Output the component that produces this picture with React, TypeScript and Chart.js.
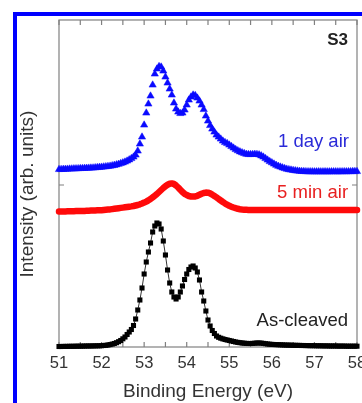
import React, { useEffect, useRef } from 'react';
import { Chart, registerables } from 'chart.js';

Chart.register(...registerables);

// Binding energy grid (eV)
const energies = [
  51.0, 51.05, 51.1, 51.15, 51.2, 51.25, 51.3, 51.35, 51.4, 51.45,
  51.5, 51.55, 51.6, 51.65, 51.7, 51.75, 51.8, 51.85, 51.9, 51.95,
  52.0, 52.05, 52.1, 52.15, 52.2, 52.25, 52.3, 52.35, 52.4, 52.45,
  52.5, 52.55, 52.6, 52.65, 52.7, 52.75, 52.8, 52.85, 52.9, 52.95,
  53.0, 53.05, 53.1, 53.15, 53.2, 53.25, 53.3, 53.35, 53.4, 53.45,
  53.5, 53.55, 53.6, 53.65, 53.7, 53.75, 53.8, 53.85, 53.9, 53.95,
  54.0, 54.05, 54.1, 54.15, 54.2, 54.25, 54.3, 54.35, 54.4, 54.45,
  54.5, 54.55, 54.6, 54.65, 54.7, 54.75, 54.8, 54.85, 54.9, 54.95,
  55.0, 55.05, 55.1, 55.15, 55.2, 55.25, 55.3, 55.35, 55.4, 55.45,
  55.5, 55.55, 55.6, 55.65, 55.7, 55.75, 55.8, 55.85, 55.9, 55.95,
  56.0, 56.05, 56.1, 56.15, 56.2, 56.25, 56.3, 56.35, 56.4, 56.45,
  56.5, 56.55, 56.6, 56.65, 56.7, 56.75, 56.8, 56.85, 56.9, 56.95,
  57.0, 57.05, 57.1, 57.15, 57.2, 57.25, 57.3, 57.35, 57.4, 57.45,
  57.5, 57.55, 57.6, 57.65, 57.7, 57.75, 57.8, 57.85, 57.9, 57.95,
  58.0,
];

// Intensities (arb. units, curves stacked with offsets as plotted)
const asCleaved = [
  0.5, 0.5, 0.6, 0.6, 0.6, 0.7, 0.7, 0.7, 0.8, 0.8,
  0.8, 0.9, 0.9, 1.0, 1.0, 1.0, 1.1, 1.1, 1.2, 1.2,
  1.3, 1.5, 1.7, 2.0, 2.4, 2.9, 3.5, 4.3, 5.3, 6.5,
  8.2, 10, 12.5, 15, 17.5, 21.5, 28, 37, 47, 59,
  73, 85, 95, 104, 115, 121, 124, 123, 118, 106,
  92, 77, 64, 55, 50, 48, 50, 55, 61, 67.5,
  73, 77.5, 80, 81, 79, 75, 67, 55, 46, 36,
  27, 21, 16.5, 13.5, 11, 9.7, 8.8, 8.1, 7.5, 7,
  6.5, 6, 5.5, 5, 4.6, 4.3, 4, 3.8, 3.6, 3.5,
  3.5, 3.6, 3.8, 4, 4, 3.9, 3.6, 3.3, 3, 2.8,
  2.6, 2.5, 2.4, 2.3, 2.2, 2.1, 2.0, 1.9, 1.9, 1.8,
  1.7, 1.7, 1.6, 1.6, 1.5, 1.5, 1.4, 1.4, 1.3, 1.3,
  1.3, 1.2, 1.2, 1.2, 1.1, 1.1, 1.1, 1.0, 1.0, 1.0,
  1.0, 0.9, 0.9, 0.9, 0.9, 0.8, 0.8, 0.8, 0.8, 0.8,
  0.8,
];

const fiveMinAir = [
  135.5, 135.5, 135.6, 135.6, 135.7, 135.7, 135.8, 135.8, 135.9, 135.9,
  136.0, 136.0, 136.1, 136.2, 136.3, 136.4, 136.5, 136.6, 136.7, 136.7,
  136.8, 137.0, 137.2, 137.4, 137.6, 137.9, 138.2, 138.5, 138.8, 139.1,
  139.4, 139.7, 140.0, 140.3, 140.6, 141.0, 141.5, 142.0, 142.7, 143.5,
  144.4, 145.4, 146.6, 148.0, 149.6, 151.3, 153.0, 155.0, 157.0, 159.0,
  160.8, 162.2, 163.2, 163.6, 163.0, 161.5, 159.5, 157.2, 155.0, 153.2,
  152.0, 151.0, 150.5, 150.4, 150.6, 151.2, 152.2, 153.2, 154.0, 154.4,
  154.3, 153.6, 152.4, 151.0, 149.6, 148.0, 146.5, 145.0, 143.6, 142.3,
  141.2, 140.3, 139.5, 138.8, 138.2, 137.8, 137.5, 137.3, 137.2, 137.1,
  137.1, 137.0, 137.1, 137.1, 137.0, 137.0, 137.1, 137.0, 137.0, 137.0,
  137.0, 136.9, 137.0, 137.1, 137.0, 136.9, 137.0, 137.0, 137.1, 137.0,
  136.9, 137.0, 137.0, 137.1, 137.0, 136.9, 137.0, 137.0, 137.1, 137.0,
  137.0, 136.9, 137.0, 137.1, 137.0, 137.0, 136.9, 137.0, 137.1, 137.0,
  137.0, 136.9, 137.0, 137.0, 137.1, 137.0, 137.0, 136.9, 137.0, 137.0,
  137.0,
];

const oneDayAir = [
  177.5, 177.6, 177.7, 177.8, 177.9, 178.0, 178.1, 178.2, 178.3, 178.4,
  178.5, 178.6, 178.7, 178.8, 178.9, 179.0, 179.1, 179.3, 179.5, 179.7,
  179.9, 180.1, 180.3, 180.6, 180.9, 181.3, 181.7, 182.2, 182.8, 183.5,
  184.2, 185.0, 186.0, 187.2, 188.5, 190.0, 192.0, 196.0, 203.0, 210.0,
  222.0, 234.0, 243.0, 251.0, 262.0, 273.0, 278.0, 280.5, 280.0, 276.0,
  270.0, 264.0, 258.0, 252.0, 244.0, 238.0, 235.0, 233.5, 234.0, 237.0,
  242.0, 247.0, 250.0, 252.0, 251.5, 249.0, 246.0, 242.0, 237.5, 231.0,
  226.0, 221.5, 218.0, 215.0, 212.0, 210.0, 208.0, 206.0, 204.5, 203.5,
  202.0, 200.5, 199.0, 197.5, 196.3, 195.2, 194.3, 193.5, 192.8, 192.5,
  192.5, 192.6, 192.7, 192.6, 192.2, 191.2, 190.0, 188.5, 187.0, 185.5,
  184.3, 183.0, 181.8, 180.8, 180.0, 179.2, 178.5, 177.9, 177.4, 177.0,
  176.6, 176.3, 176.0, 175.8, 175.6, 175.5, 175.4, 175.3, 175.3, 175.3,
  175.2, 175.2, 175.3, 175.2, 175.2, 175.3, 175.2, 175.2, 175.3, 175.3,
  175.3, 175.2, 175.3, 175.3, 175.4, 175.3, 175.4, 175.4, 175.5, 175.5,
  175.5,
];

const xTickLabels = [51, 52, 53, 54, 55, 56, 57, 58];
const xMinorTicks = [51, 51.5, 52, 52.5, 53, 53.5, 54, 54.5, 55, 55.5, 56, 56.5, 57, 57.5, 58];
const yTicks = [162];

const annotationTexts = ['S3', '1 day air', '5 min air', 'As-cleaved'];
const annotationX = [57.79, 57.81, 57.79, 57.79];
const annotationY = [307, 205, 154, 26];
const annotationColors = ['#222222', '#2a2ad8', '#e82020', '#222222'];
const annotationBold = [true, false, false, false];
const annotationSizes = [17, 18.5, 18.5, 18.5];

const FONT = "'Liberation Sans', Arial, Helvetica, sans-serif";

const framePlugin = {
  id: 'frameAndTicks',
  beforeDatasetsDraw(chart: any) {
    const { ctx, chartArea, scales } = chart;
    const { left, right, top, bottom } = chartArea;
    ctx.save();
    ctx.strokeStyle = '#808080';
    ctx.lineWidth = 1.2;
    ctx.strokeRect(left, top, right - left, bottom - top);
    ctx.beginPath();
    for (const v of xMinorTicks) {
      const px = scales.x.getPixelForValue(v);
      ctx.moveTo(px, bottom);
      ctx.lineTo(px, bottom - 5);
      ctx.moveTo(px, top);
      ctx.lineTo(px, top + 5);
    }
    for (const v of yTicks) {
      const py = scales.y.getPixelForValue(v);
      ctx.moveTo(left, py);
      ctx.lineTo(left + 5, py);
      ctx.moveTo(right, py);
      ctx.lineTo(right - 5, py);
    }
    ctx.stroke();
    ctx.restore();
  },
  afterDatasetsDraw(chart: any) {
    const { ctx, scales } = chart;
    ctx.save();
    ctx.textAlign = 'right';
    ctx.textBaseline = 'middle';
    annotationTexts.forEach((t, i) => {
      ctx.font = `${annotationBold[i] ? 'bold ' : ''}${annotationSizes[i]}px ${FONT}`;
      ctx.fillStyle = annotationColors[i];
      ctx.fillText(t, scales.x.getPixelForValue(annotationX[i]), scales.y.getPixelForValue(annotationY[i]));
    });
    ctx.restore();
  },
};

export default function App() {
  const ref = useRef<HTMLCanvasElement>(null);
  useEffect(() => {
    const toXY = (ys: number[]) => energies.map((x, i) => ({ x, y: ys[i] }));
    const chart = new Chart(ref.current!, {
      type: 'line',
      data: {
        datasets: [
          {
            label: '5 min air',
            data: toXY(fiveMinAir),
            borderColor: '#ff0a0a',
            borderWidth: 6.5,
            pointRadius: 0,
            borderCapStyle: 'round',
            borderJoinStyle: 'round',
            clip: false,
          } as any,
          {
            label: 'As-cleaved',
            data: toXY(asCleaved),
            borderColor: '#333333',
            borderWidth: 1,
            pointStyle: 'rect',
            pointRadius: 3.6,
            pointBackgroundColor: '#000000',
            pointBorderColor: '#000000',
            pointBorderWidth: 0,
            clip: false,
          } as any,
          {
            label: '1 day air',
            data: toXY(oneDayAir),
            showLine: false,
            pointStyle: 'triangle',
            pointRadius: 4.2,
            pointBackgroundColor: '#0a0aff',
            pointBorderColor: '#0a0aff',
            pointBorderWidth: 0.5,
            clip: false,
          } as any,
        ],
      },
      options: {
        animation: false,
        responsive: false,
        events: [],
        layout: { padding: { top: 20, right: 43, left: 0, bottom: 0 } },
        plugins: { legend: { display: false }, tooltip: { enabled: false } },
        scales: {
          x: {
            type: 'linear',
            min: 51,
            max: 58,
            afterBuildTicks: (s: any) => {
              s.ticks = xTickLabels.map((v) => ({ value: v }));
            },
            afterFit: (s: any) => {
              s.height = 56;
            },
            grid: { display: false, drawTicks: false },
            border: { display: false },
            ticks: { color: '#333333', font: { family: FONT, size: 16.5 }, padding: 7, maxRotation: 0 },
            title: {
              display: true,
              text: 'Binding Energy (eV)',
              color: '#333333',
              font: { family: FONT, size: 19 },
              padding: 0,
            },
          },
          y: {
            type: 'linear',
            min: 0,
            max: 327,
            afterFit: (s: any) => {
              s.width = 59;
            },
            ticks: { display: false },
            grid: { display: false, drawTicks: false },
            border: { display: false },
            title: {
              display: true,
              text: 'Intensity (arb. units)    ',
              color: '#333333',
              font: { family: FONT, size: 19 },
              padding: { top: 16, bottom: 0 },
            },
          },
        },
      } as any,
      plugins: [framePlugin],
    });
    return () => chart.destroy();
  }, []);

  return (
    <div style={{ position: 'absolute', left: 0, top: 0, width: 362, height: 403, overflow: 'hidden', background: '#fff' }}>
      <div
        style={{
          position: 'absolute',
          left: 13,
          top: 12,
          width: 349,
          height: 391,
          boxSizing: 'border-box',
          borderTop: '4px solid #0000ff',
          borderLeft: '4px solid #0000ff',
        }}
      />
      <canvas ref={ref} width={400} height={403} style={{ position: 'absolute', left: 0, top: 0, width: 400, height: 403 }} />
    </div>
  );
}
